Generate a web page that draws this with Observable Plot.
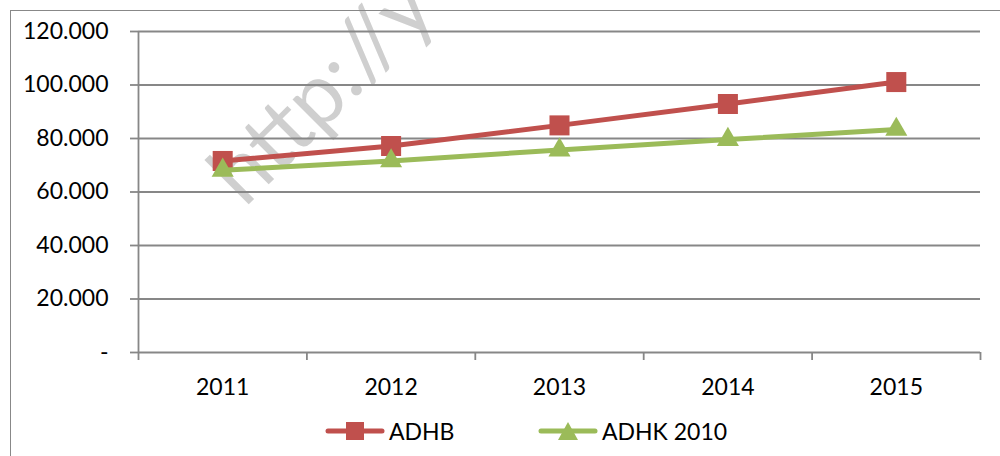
<!DOCTYPE html>
<html>
<head>
<meta charset="utf-8">
<script src="https://cdn.jsdelivr.net/npm/d3@7"></script>
<script src="https://cdn.jsdelivr.net/npm/@observablehq/plot@0.6"></script>
<style>
  body { margin: 0; background: #fff; font-family: Lato, "Open Sans", sans-serif; }
  #wrap { position: relative; width: 1000px; height: 456px; overflow: hidden; background: #fff; }
  #chart { position: absolute; left: 0; top: 0; }
  #frame { position: absolute; left: 10px; top: 10px; width: 1010px; height: 470px; border: 1.5px solid #888; box-sizing: border-box; pointer-events: none; }
  .leg { position: absolute; top: 405px; height: 51px; display: flex; align-items: center; font-size: 23px; color: #000; }
  .leg svg { margin-right: 4px; }
</style>
</head>
<body>
<div id="wrap">
  <div id="chart"></div>
  <div id="frame"></div>
  <div class="leg" style="left:325px">
    <svg width="60" height="22"><line x1="3" y1="11" x2="57" y2="11" stroke="#C0504D" stroke-width="5" stroke-linecap="round"/><rect x="21" y="2" width="18" height="18" fill="#C0504D"/></svg>
    <span id="l0"></span>
  </div>
  <div class="leg" style="left:538px">
    <svg width="60" height="22"><line x1="3" y1="11" x2="57" y2="11" stroke="#9BBB59" stroke-width="5" stroke-linecap="round"/><polygon points="30,2 40,20 20,20" fill="#9BBB59"/></svg>
    <span id="l1"></span>
  </div>
</div>
<script>
const years = [2011, 2012, 2013, 2014, 2015];
const adhb = [71600, 77200, 84900, 92900, 101100];
const adhk = [68100, 71600, 75700, 79600, 83400];
const seriesNames = ["ADHB", "ADHK 2010"];
const seriesColors = ["#C0504D", "#9BBB59"];
const yTicks = [0, 20000, 40000, 60000, 80000, 100000, 120000];
const watermark = "http://y";

document.getElementById("l0").textContent = seriesNames[0];
document.getElementById("l1").textContent = seriesNames[1];

const fmt = d3.formatLocale({decimal: ",", thousands: ".", grouping: [3], currency: ["", ""]}).format(",d");
const rowsA = years.map((yr, i) => ({year: yr, value: adhb[i], series: seriesNames[0]}));
const rowsB = years.map((yr, i) => ({year: yr, value: adhk[i], series: seriesNames[1]}));
const bounds = years.map(y => y - 0.5).concat([years[years.length - 1] + 0.5]);
const gridColor = "#878787";

const chart = Plot.plot({
  width: 1000,
  height: 405,
  marginLeft: 138,
  marginRight: 20,
  marginTop: 31,
  marginBottom: 53,
  style: {fontFamily: "Lato, 'Open Sans', sans-serif", fontSize: "23px", color: "#000", background: "transparent", overflow: "visible"},
  x: {type: "linear", domain: [bounds[0], bounds[bounds.length - 1]], axis: null},
  y: {domain: [0, 120000], axis: null},
  color: {domain: seriesNames, range: seriesColors},
  marks: [
    Plot.text([watermark], {frameAnchor: "top-left", dx: 106, dy: 177, rotate: -45, textAnchor: "start", lineAnchor: "bottom", fontSize: 85, fill: "#cfcfcf"}),
    Plot.ruleY(yTicks, {stroke: gridColor, strokeWidth: 1.8}),
    Plot.axisY(yTicks, {label: null, tickSize: 8, tickPadding: 22, tickFormat: v => v === 0 ? "-" : fmt(v), stroke: gridColor, strokeWidth: 1.8, fontSize: 23, fill: "#000"}),
    Plot.ruleX([bounds[0]], {y1: 0, y2: 120000, stroke: gridColor, strokeWidth: 1.8}),
    Plot.axisX(bounds, {label: null, tickSize: 8, tickFormat: () => "", stroke: gridColor, strokeWidth: 1.8}),
    Plot.axisX(years, {label: null, tickSize: 0, tickPadding: 26, tickFormat: d => String(d), fontSize: 23, fill: "#000"}),
    Plot.line(rowsA, {x: "year", y: "value", stroke: "series", strokeWidth: 5}),
    Plot.dot(rowsA, {x: "year", y: "value", symbol: "square", r: 11.3, fill: "series", stroke: null}),
    Plot.line(rowsB, {x: "year", y: "value", stroke: "series", strokeWidth: 5}),
    Plot.dot(rowsB, {x: "year", y: "value", symbol: "triangle", r: 8.2, fill: "series", stroke: null})
  ]
});
document.getElementById("chart").appendChild(chart);
</script>
</body>
</html>
